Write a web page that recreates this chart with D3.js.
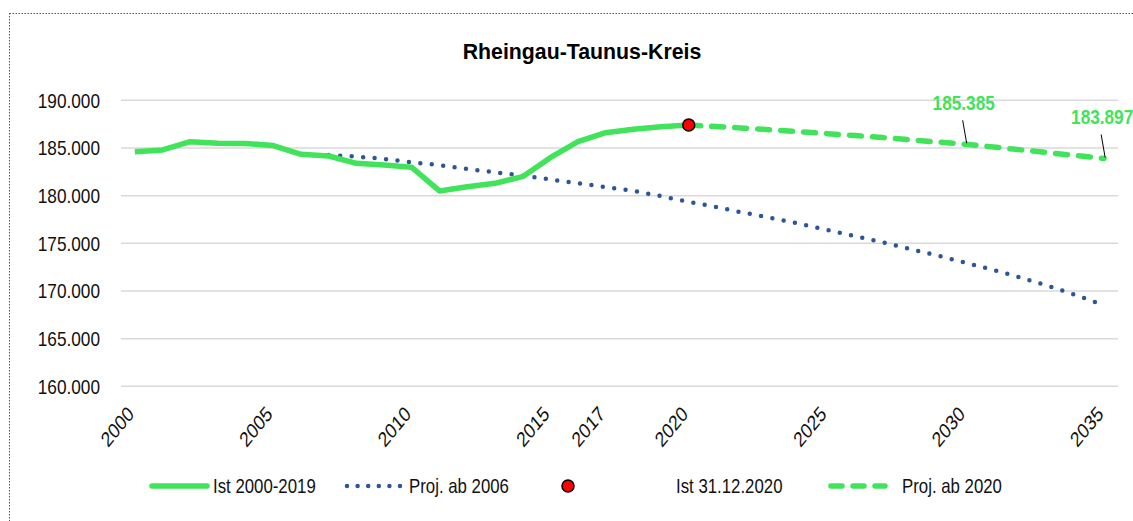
<!DOCTYPE html>
<html>
<head>
<meta charset="utf-8">
<script src="https://cdn.jsdelivr.net/npm/d3@7"></script>
<style>
  body { margin: 0; background: #fff; }
  svg { display: block; }
  text { font-family: "Liberation Sans", Arial, sans-serif; }
</style>
</head>
<body>
<div id="vis"></div>
<script>
(function () {
  'use strict';

  var W = 1133, H = 521;
  var GREEN = '#41e35b';
  var BLUE = '#2f5597';
  // the reference looks squeezed sideways, like Arial Narrow
  var SQ = 0.82;

  // categories (one per year) and the few that get a label
  var years = d3.range(2000, 2036);
  var yearLabels = [2000, 2005, 2010, 2015, 2017, 2020, 2025, 2030, 2035];
  var yTicks = [160000, 165000, 170000, 175000, 180000, 185000, 190000];

  // Ist 2000-2019 (plus the 2020 point it runs into)
  var istYears = d3.range(2000, 2021);
  var istValues = [184610, 184790, 185660, 185490, 185470, 185250, 184340, 184160,
    183390, 183210, 182970, 180490, 180940, 181290, 181990, 183980, 185660,
    186600, 186960, 187230, 187410];

  // Proj. ab 2006
  var proj06Years = d3.range(2007, 2036);
  var proj06Values = [184260, 184100, 183850, 183500, 183200, 182800, 182450, 182100,
    181700, 181300, 180900, 180500, 179950, 179350, 178800, 178200, 177650, 177050,
    176400, 175750, 175100, 174400, 173700, 172950, 172200, 171400, 170500, 169550,
    168500];

  // Ist 31.12.2020
  var ist2020 = [2020, 187410];

  // Proj. ab 2020
  var proj20Years = d3.range(2020, 2036);
  var proj20Values = [187410, 187250, 187080, 186900, 186700, 186500, 186300, 186100,
    185860, 185620, 185385, 185100, 184800, 184500, 184200, 183897];

  // labelled values
  var annotated = [2030, 2035];

  var legendItems = ['Ist 2000-2019', 'Proj. ab 2006', 'Ist 31.12.2020', 'Proj. ab 2020'];

  var svg = d3.select('#vis').append('svg')
    .attr('width', W)
    .attr('height', H);

  // dotted chart frame
  svg.append('rect')
    .attr('x', 9.5).attr('y', 13.5)
    .attr('width', W + 20).attr('height', H + 20)
    .attr('fill', 'none')
    .attr('stroke', '#555')
    .attr('stroke-width', 1)
    .attr('stroke-dasharray', '1.5 1.5');

  var x = d3.scaleBand().domain(years).range([121, 1118]);
  var cx = function (yr) { return x(yr) + x.bandwidth() / 2; };
  var y = d3.scaleLinear().domain([160000, 190000]).range([386.3, 100.3]);

  var fmt = function (v) { return d3.format(',')(v).replace(/,/g, '.'); };
  var fmtTick = function (v) { return (v / 1000).toFixed(3); };

  // grid
  svg.append('g').selectAll('line')
    .data(yTicks).enter().append('line')
    .attr('x1', 121).attr('x2', 1118)
    .attr('y1', function (d) { return y(d); })
    .attr('y2', function (d) { return y(d); })
    .attr('stroke', '#d9d9d9')
    .attr('stroke-width', 1.5);

  // y axis labels
  var yAxis = d3.axisLeft(y).tickValues(yTicks).tickSize(0).tickPadding(0)
    .tickFormat(fmtTick);
  var gy = svg.append('g').attr('transform', 'translate(100,0)').call(yAxis);
  gy.select('.domain').remove();
  gy.selectAll('text')
    .attr('font-size', 21)
    .attr('fill', '#111')
    .attr('font-family', null)
    .attr('x', 0)
    .attr('transform', 'scale(' + SQ + ',1)');

  // x axis labels
  var xAxis = d3.axisBottom(x).tickValues(yearLabels).tickSize(0);
  var gx = svg.append('g').attr('transform', 'translate(0,400)').call(xAxis);
  gx.select('.domain').remove();
  gx.selectAll('text')
    .attr('font-size', 21)
    .attr('fill', '#111')
    .attr('font-family', null)
    .attr('text-anchor', 'end')
    .attr('dy', '0.35em')
    .attr('y', 0)
    .attr('transform', 'translate(-4,10) scale(' + SQ + ',1) rotate(-45)');

  // title
  svg.append('text')
    .attr('x', 582).attr('y', 59)
    .attr('text-anchor', 'middle')
    .attr('font-size', 21.3)
    .attr('font-weight', 'bold')
    .attr('fill', '#000')
    .text('Rheingau-Taunus-Kreis');

  var line = d3.line()
    .x(function (d) { return cx(d[0]); })
    .y(function (d) { return y(d[1]); });

  var zip = function (a, b) { return a.map(function (v, i) { return [v, b[i]]; }); };

  // Proj. ab 2006 (dotted)
  svg.append('path')
    .datum(zip(proj06Years, proj06Values))
    .attr('d', line)
    .attr('fill', 'none')
    .attr('stroke', BLUE)
    .attr('stroke-width', 4.5)
    .attr('stroke-linecap', 'round')
    .attr('stroke-dasharray', '0 11.5');

  // Ist 2000-2019
  svg.append('path')
    .datum(zip(istYears, istValues))
    .attr('d', line)
    .attr('fill', 'none')
    .attr('stroke', GREEN)
    .attr('stroke-width', 5.5)
    .attr('stroke-linejoin', 'round');

  // Proj. ab 2020 (dashed)
  svg.append('path')
    .datum(zip(proj20Years, proj20Values))
    .attr('d', line)
    .attr('fill', 'none')
    .attr('stroke', GREEN)
    .attr('stroke-width', 5.5)
    .attr('stroke-linecap', 'round')
    .attr('stroke-dasharray', '12 11');

  // Ist 31.12.2020 marker
  svg.append('circle')
    .attr('cx', cx(ist2020[0]))
    .attr('cy', y(ist2020[1]))
    .attr('r', 6)
    .attr('fill', '#ff0000')
    .attr('stroke', '#000')
    .attr('stroke-width', 1.5);

  // value labels with leader lines
  var valOf = function (d) { return proj20Values[proj20Years.indexOf(d)]; };
  var ann = svg.append('g').selectAll('g')
    .data(annotated).enter().append('g');
  ann.append('line')
    .attr('x1', function (d) { return cx(d) - 3; })
    .attr('y1', function (d) { return y(valOf(d)) - 24; })
    .attr('x2', function (d) { return cx(d) + 1; })
    .attr('y2', function (d) { return y(valOf(d)) - 1; })
    .attr('stroke', '#000')
    .attr('stroke-width', 1);
  ann.append('text')
    .attr('transform', function (d) {
      return 'translate(' + (cx(d) - 2) + ',' + (y(valOf(d)) - 34) + ') scale(' + SQ + ',1)';
    })
    .attr('text-anchor', 'middle')
    .attr('font-size', 21)
    .attr('font-weight', 'bold')
    .attr('fill', GREEN)
    .text(function (d) { return fmt(valOf(d)); });

  // legend
  var LY = 486;
  var lg = svg.append('g');
  lg.append('line').attr('x1', 152).attr('x2', 207).attr('y1', LY).attr('y2', LY)
    .attr('stroke', GREEN).attr('stroke-width', 5.5).attr('stroke-linecap', 'round');
  lg.append('line').attr('x1', 347).attr('x2', 402).attr('y1', LY).attr('y2', LY)
    .attr('stroke', BLUE).attr('stroke-width', 4.5).attr('stroke-linecap', 'round')
    .attr('stroke-dasharray', '0 10.6');
  lg.append('circle').attr('cx', 568).attr('cy', LY).attr('r', 6)
    .attr('fill', '#ff0000').attr('stroke', '#000').attr('stroke-width', 1.5);
  lg.append('line').attr('x1', 831).attr('x2', 885).attr('y1', LY).attr('y2', LY)
    .attr('stroke', GREEN).attr('stroke-width', 5.5).attr('stroke-linecap', 'round')
    .attr('stroke-dasharray', '11 11');
  var legendX = [213, 409, 676, 902];
  lg.selectAll('text.lbl')
    .data(legendItems).enter().append('text')
    .attr('class', 'lbl')
    .attr('transform', function (d, i) {
      return 'translate(' + legendX[i] + ',' + LY + ') scale(' + SQ + ',1)';
    })
    .attr('dy', '0.35em')
    .attr('font-size', 20.5)
    .attr('fill', '#111')
    .text(function (d) { return d; });
})();
</script>
</body>
</html>
